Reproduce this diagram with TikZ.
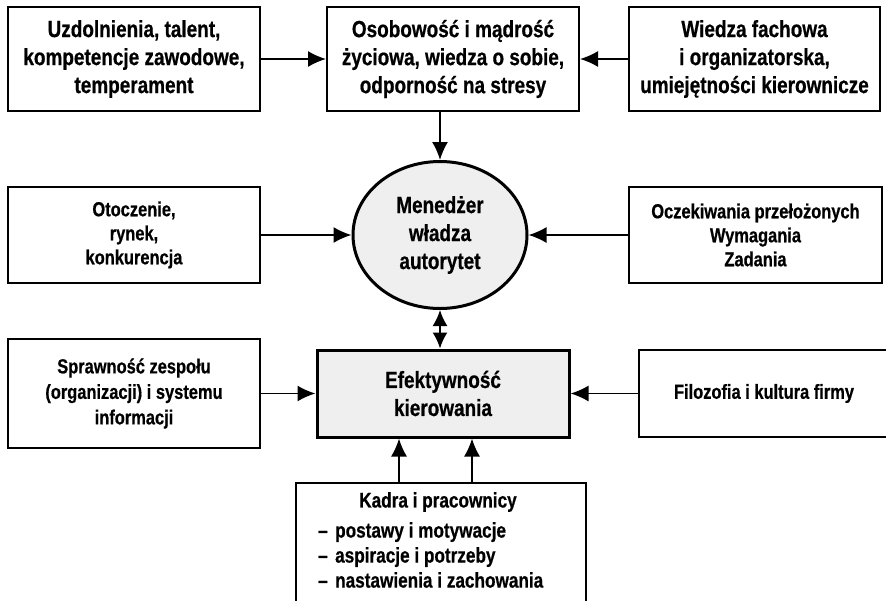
\documentclass[tikz,border=0pt]{standalone}
\usepackage{fontspec}
\setmainfont{Liberation Sans}[FakeStretch=0.81,FakeBold=0.6]
\usetikzlibrary{arrows.meta,shapes.geometric}
\definecolor{boxgray}{HTML}{EFEFEF}
\begin{document}
\begin{tikzpicture}[x=1pt,y=-1pt,
  box/.style={draw,line width=2pt,rectangle,inner sep=0pt,align=center,
    font=\bfseries\fontsize{23.4}{28}\selectfont},
  sidebox/.style={box,font=\bfseries\fontsize{20.3}{24}\selectfont},
  keybox/.style={box,line width=3pt,fill=boxgray},
  tip/.style={Latex[length=18pt,width=16pt]},
  arr/.style={line width=1.8pt,-{Latex[length=18pt,width=16pt]}},
  darr/.style={line width=1.8pt,{Latex[length=16pt,width=15pt]}-{Latex[length=16pt,width=15pt]}},
  txt/.style={inner sep=0pt,font=\bfseries\fontsize{21.2}{25}\selectfont}]
\useasboundingbox (0,0) rectangle (886,600);
\clip (0,0) rectangle (886,600);

% upper row
\node[box,minimum width=252pt,minimum height=104pt] (tl) at (134,59)
  {Uzdolnienia, talent,\\kompetencje zawodowe,\\temperament};
\node[box,minimum width=252pt,minimum height=104pt] (tc) at (453,59)
  {Osobowość i mądrość\\życiowa, wiedza o sobie,\\odporność na stresy};
\node[box,minimum width=251pt,minimum height=104pt] (tr) at (754.5,59)
  {Wiedza fachowa\\i organizatorska,\\umiejętności kierownicze};

% middle row
\node[sidebox,minimum width=252pt,minimum height=96pt] (ot) at (134,235)
  {Otoczenie,\\rynek,\\konkurencja};
\node[keybox,ellipse,minimum width=174pt,minimum height=147pt] (ell) at (440,235)
  {Menedżer\\władza\\autorytet};
\node[sidebox,minimum width=253pt,minimum height=96pt] (oc) at (755.5,235)
  {Oczekiwania przełożonych\\Wymagania\\Zadania};

% lower row
\node[sidebox,font=\bfseries\fontsize{20.3}{25.5}\selectfont,
  minimum width=252pt,minimum height=109pt] (sp) at (134,393.5)
  {Sprawność zespołu\\(organizacji) i systemu\\informacji};
\node[keybox,minimum width=252pt,minimum height=87pt] (eff) at (443,393.5)
  {Efektywność\\kierowania};
\node[sidebox,minimum width=250pt,minimum height=87pt] (fi) at (764,393.5)
  {Filozofia i kultura firmy};

% staff box with its list
\node[box,minimum width=290pt,minimum height=127pt] (kadra) at (441,546.5) {};
\node[txt] (kadraT) at (438,502) {Kadra i pracownicy};
\node[txt,anchor=west,align=left] (kadraL) at (318,555)
  {\makebox[17pt][l]{–}postawy i motywacje\\
   \makebox[17pt][l]{–}aspiracje i potrzeby\\
   \makebox[17pt][l]{–}nastawienia i zachowania};

% connectors
\draw[arr] (tl.east) -- (tc.west);
\draw[arr] (tr.west) -- (tc.east);
\draw[arr] (tc.south -| ell.north) -- (ell.north);
\draw[arr] (ot.east) -- (ell.west);
\draw[arr] (oc.west) -- (ell.east);
\draw[darr] (ell.south) -- (ell.south |- eff.north);
\draw[arr] (sp.east) -- (eff.west);
\draw[arr] (fi.west) -- (eff.east);
\draw[arr] ([xshift=-42pt]kadra.north) -- ([xshift=-42pt]kadra.north |- eff.south);
\draw[arr] ([xshift=31pt]kadra.north) -- ([xshift=31pt]kadra.north |- eff.south);
\end{tikzpicture}
\end{document}
